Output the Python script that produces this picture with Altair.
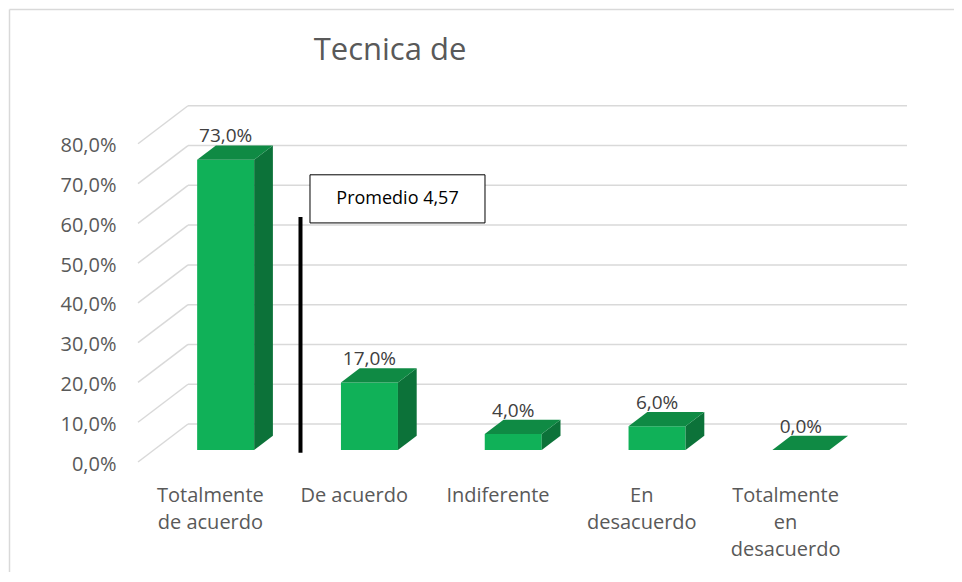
import altair as alt
import pandas as pd

# ---------------- data ----------------
categories = ["Totalmente de acuerdo", "De acuerdo", "Indiferente",
              "En desacuerdo", "Totalmente en desacuerdo"]
label_lines = [["Totalmente", "de acuerdo"], ["De acuerdo"], ["Indiferente"],
               ["En", "desacuerdo"], ["Totalmente", "en", "desacuerdo"]]
values = [73.0, 17.0, 4.0, 6.0, 0.0]
tick_values = [0, 10, 20, 30, 40, 50, 60, 70, 80]
title_text = "Tecnica de"
promedio_text = "Promedio 4,57"

# ---------------- geometry (data units) ----------------
W, H = 769, 358
PX_X = 143.8                  # px per category unit
X_MAX = W / PX_X
Y_MAX = 90.0
PX_Y = H / Y_MAX
WALL_DX = 50 / PX_X           # full depth offset (x units)
WALL_DY = 38 / PX_Y           # full depth offset (% units)
D_FRONT, D_BACK = 0.315, 0.69
BAR_W = 57 / PX_X

# annotation placement (data units)
prom_x, prom_y0, prom_y1 = 1.13, 2.3, 61.6
box_x0, box_x1, box_y0, box_y1 = 1.196, 2.413, 60.1, 72.2

FRONT, TOP, SIDE = "#10b158", "#0f8a44", "#0c7239"
GRID = "#d9d9d9"

# ---------------- derived tables ----------------
grid_rows = []
for v in tick_values:
    grid_rows.append(dict(x=WALL_DX, x2=5 + WALL_DX, y=v + WALL_DY, y2=v + WALL_DY))
    grid_rows.append(dict(x=0.0, x2=WALL_DX, y=v, y2=v + WALL_DY))
grid_df = pd.DataFrame(grid_rows)

front_rows, side_rows, top_rows, lab_rows = [], [], [], []
for i, (c, v) in enumerate(zip(categories, values)):
    cx = i + 0.5
    xl, xr = cx - BAR_W / 2, cx + BAR_W / 2
    front_rows.append(dict(cat=c, x=xl + D_FRONT * WALL_DX, x2=xr + D_FRONT * WALL_DX,
                           y=D_FRONT * WALL_DY, y2=v + D_FRONT * WALL_DY))
    for d in (D_FRONT, D_BACK):
        side_rows.append(dict(cat=c, x=xr + d * WALL_DX, y=d * WALL_DY, y2=v + d * WALL_DY))
        top_rows.append(dict(cat=c, y=v + d * WALL_DY, x=xl + d * WALL_DX, x2=xr + d * WALL_DX))
    lab_rows.append(dict(cat=c, x=cx + D_FRONT * WALL_DX, y=v + D_BACK * WALL_DY,
                         t=f"{v:.1f}".replace(".", ",") + "%"))
front_df = pd.DataFrame(front_rows)
side_df = pd.DataFrame(side_rows)
top_df = pd.DataFrame(top_rows)
lab_df = pd.DataFrame(lab_rows)
prom_df = pd.DataFrame([dict(x=prom_x, y=prom_y0, y2=prom_y1,
                             bx=box_x0, bx2=box_x1, by=box_y0, by2=box_y1,
                             tx=(box_x0 + box_x1) / 2, ty=(box_y0 + box_y1) / 2,
                             t=promedio_text)])
frame_df = pd.DataFrame([dict(k=1, t=title_text)])

# ---------------- scales / axes ----------------
xs = alt.Scale(domain=[0, X_MAX], nice=False, zero=False)
ys = alt.Scale(domain=[0, Y_MAX], nice=False, zero=False)

names_js = "[" + ",".join("'" + "|".join(l) + "'" for l in label_lines) + "]"
xaxis = alt.Axis(values=[i + 0.5 for i in range(len(categories))],
                 labelExpr=f"split({names_js}[floor(datum.value)], '|')",
                 domain=False, ticks=False, grid=False, title=None,
                 labelPadding=23, labelFontSize=20, labelColor="#595959",
                 labelFont="Open Sans", labelLineHeight=27,
                 labelOverlap=False, labelFlush=False)
yaxis = alt.Axis(values=tick_values,
                 labelExpr="replace(format(datum.value,'.1f'),'.',',') + '%'",
                 domain=False, ticks=False, grid=False, title=None,
                 labelPadding=22, labelFontSize=20, labelColor="#595959",
                 labelFont="Open Sans", labelOffset=2)

X = lambda f: alt.X(f"{f}:Q", scale=xs, axis=xaxis)
Y = lambda f: alt.Y(f"{f}:Q", scale=ys, axis=yaxis)

grid = alt.Chart(grid_df).mark_rule(color=GRID, strokeWidth=1.5).encode(
    x=X("x"), x2="x2", y=Y("y"), y2="y2")

front = alt.Chart(front_df).mark_rect(color=FRONT).encode(
    x=X("x"), x2="x2", y=Y("y"), y2="y2")

side = alt.Chart(side_df).mark_area(color=SIDE, orient="vertical").encode(
    x=X("x"), y=Y("y"), y2="y2", detail="cat:N")

top = alt.Chart(top_df).mark_area(color=TOP, orient="horizontal").encode(
    y=Y("y"), x=X("x"), x2="x2", detail="cat:N")

labels = alt.Chart(lab_df).mark_text(baseline="alphabetic", dy=-3, fontSize=19,
                                     font="Open Sans", color="#404040").encode(
    x=X("x"), y=Y("y"), text="t:N")

prom_line = alt.Chart(prom_df).mark_rule(color="black", strokeWidth=4).encode(
    x=X("x"), y=Y("y"), y2="y2")
prom_box = alt.Chart(prom_df).mark_rect(fill="white", stroke="black", strokeWidth=1).encode(
    x=X("bx"), x2="bx2", y=Y("by"), y2="by2")
prom_txt = alt.Chart(prom_df).mark_text(baseline="middle", fontSize=18,
                                        font="Open Sans", color="black").encode(
    x=X("tx"), y=Y("ty"), text="t:N")

frame_left = alt.Chart(frame_df).mark_rule(color=GRID, strokeWidth=1.5).encode(
    x=alt.value(-128.5), y=alt.value(-94.5), y2=alt.value(480))
frame_top = alt.Chart(frame_df).mark_rule(color=GRID, strokeWidth=1.5).encode(
    x=alt.value(-128.5), x2=alt.value(830), y=alt.value(-94.5))
title = alt.Chart(frame_df).mark_text(align="center", baseline="alphabetic",
                                      fontSize=31, font="Open Sans",
                                      color="#595959").encode(
    x=alt.value(252), y=alt.value(-44), text="t:N")

chart = alt.layer(frame_left, frame_top, title, grid, front, side, top, labels,
                  prom_line, prom_box, prom_txt).properties(
    width=W, height=H,
    autosize=alt.AutoSizeParams(type="none"),
    padding={"left": 130, "top": 96, "right": 47, "bottom": 110},
).configure_view(stroke=None)

chart.save("out.html", embed_options={"renderer": "svg", "actions": False})
